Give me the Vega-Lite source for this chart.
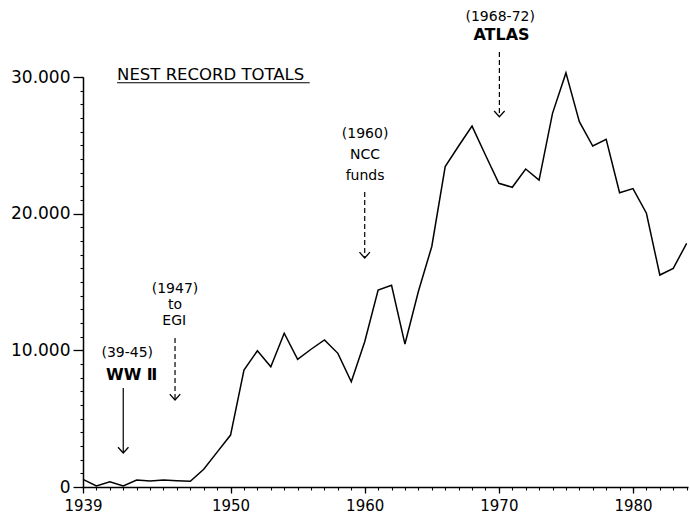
{
  "$schema": "https://vega.github.io/schema/vega-lite/v6.json",
  "width": 605,
  "height": 410,
  "autosize": {"type": "none"},
  "padding": {"left": 83, "top": 77, "right": 2, "bottom": 30},
  "background": "white",
  "config": {
    "view": {"stroke": null},
    "font": "DejaVu Sans",
    "axis": {"domainColor": "black", "tickColor": "black", "labelColor": "black", "labelFont": "DejaVu Sans", "grid": false, "title": null}
  },
  "datasets": {
    "totals": [
      {"year": 1939, "nests": 560}, {"year": 1940, "nests": 80}, {"year": 1941, "nests": 390},
      {"year": 1942, "nests": 80}, {"year": 1943, "nests": 510}, {"year": 1944, "nests": 440},
      {"year": 1945, "nests": 510}, {"year": 1946, "nests": 460}, {"year": 1947, "nests": 420},
      {"year": 1948, "nests": 1300}, {"year": 1949, "nests": 2550}, {"year": 1950, "nests": 3800},
      {"year": 1951, "nests": 8560}, {"year": 1952, "nests": 9970}, {"year": 1953, "nests": 8800},
      {"year": 1954, "nests": 11250}, {"year": 1955, "nests": 9340}, {"year": 1956, "nests": 10080},
      {"year": 1957, "nests": 10760}, {"year": 1958, "nests": 9780}, {"year": 1959, "nests": 7700},
      {"year": 1960, "nests": 10630}, {"year": 1961, "nests": 14410}, {"year": 1962, "nests": 14760},
      {"year": 1963, "nests": 10460}, {"year": 1964, "nests": 14300}, {"year": 1965, "nests": 17600},
      {"year": 1966, "nests": 23440}, {"year": 1967, "nests": 24950}, {"year": 1968, "nests": 26410},
      {"year": 1969, "nests": 24290}, {"year": 1970, "nests": 22220}, {"year": 1971, "nests": 21930},
      {"year": 1972, "nests": 23270}, {"year": 1973, "nests": 22460}, {"year": 1974, "nests": 27340},
      {"year": 1975, "nests": 30300}, {"year": 1976, "nests": 26730}, {"year": 1977, "nests": 24950},
      {"year": 1978, "nests": 25440}, {"year": 1979, "nests": 21530}, {"year": 1980, "nests": 21830},
      {"year": 1981, "nests": 20030}, {"year": 1982, "nests": 15510}, {"year": 1983, "nests": 16000},
      {"year": 1984, "nests": 17830}
    ],
    "notes": [
      {"year": 1942.3, "value": 9800, "label": "(39-45)"},
      {"year": 1945.86, "value": 14490, "label": "(1947)"},
      {"year": 1945.86, "value": 13320, "label": "to"},
      {"year": 1945.8, "value": 12150, "label": "EGI"},
      {"year": 1960.03, "value": 25830, "label": "(1960)"},
      {"year": 1960.03, "value": 24290, "label": "NCC"},
      {"year": 1960.03, "value": 22760, "label": "funds"},
      {"year": 1970.1, "value": 34410, "label": "(1968-72)"}
    ],
    "boldnotes": [
      {"year": 1942.63, "value": 8200, "label": "WW Ⅱ"},
      {"year": 1970.2, "value": 33070, "label": "ATLAS"}
    ],
    "heading": [
      {"year": 1941.54, "year2": 1955.9, "value": 30150, "under": 29580, "label": "NEST RECORD TOTALS"}
    ],
    "arrows": [
      {"year": 1942.0, "from": 7240, "to": 2490, "kind": "solid"},
      {"year": 1945.86, "from": 10900, "to": 6370, "kind": "dashed"},
      {"year": 1960.0, "from": 21590, "to": 16760, "kind": "dashed"},
      {"year": 1970.04, "from": 31830, "to": 27090, "kind": "dashed"}
    ]
  },
  "resolve": {"scale": {"x": "shared", "y": "shared"}, "axis": {"x": "independent", "y": "independent"}},
  "layer": [
    {
      "data": {"name": "totals"},
      "mark": {"type": "line", "color": "black", "strokeWidth": 1.5},
      "encoding": {
        "x": {
          "field": "year", "type": "quantitative",
          "scale": {"domain": [1939, 1984.1], "nice": false, "zero": false},
          "axis": {
            "orient": "bottom",
            "values": [1939, 1950, 1960, 1970, 1980],
            "format": "d",
            "tickSize": 6,
            "tickWidth": 1.3,
            "domainWidth": 1.5,
            "labelFontSize": 15,
            "labelPadding": 5,
            "labelOverlap": false,
            "labelFlush": false,
            "labelBound": false
          }
        },
        "y": {
          "field": "nests", "type": "quantitative",
          "scale": {"domain": [0, 30000], "nice": false, "zero": true},
          "axis": {
            "orient": "left",
            "values": [0, 10000, 20000, 30000],
            "labelExpr": "datum.value == 0 ? '0' : format(datum.value / 1000, 'd') + '.000'",
            "tickSize": 10,
            "tickWidth": 1.3,
            "domainWidth": 1.5,
            "labelFontSize": 17,
            "labelPadding": 3,
            "labelOverlap": false,
            "labelFlush": false,
            "labelBound": false
          }
        }
      }
    },
    {
      "data": {"name": "notes"},
      "mark": {"type": "text", "fontSize": 14, "font": "DejaVu Sans", "color": "black", "align": "center", "baseline": "middle"},
      "encoding": {
        "x": {"field": "year", "type": "quantitative", "axis": null},
        "y": {"field": "value", "type": "quantitative", "axis": null},
        "text": {"field": "label"}
      }
    },
    {
      "data": {"name": "boldnotes"},
      "mark": {"type": "text", "fontSize": 16, "font": "DejaVu Sans", "fontWeight": "bold", "color": "black", "align": "center", "baseline": "middle"},
      "encoding": {
        "x": {"field": "year", "type": "quantitative", "axis": null},
        "y": {"field": "value", "type": "quantitative", "axis": null},
        "text": {"field": "label"}
      }
    },
    {
      "data": {"name": "heading"},
      "mark": {"type": "text", "fontSize": 16.5, "font": "DejaVu Sans", "color": "black", "align": "left", "baseline": "middle"},
      "encoding": {
        "x": {"field": "year", "type": "quantitative", "axis": null},
        "y": {"field": "value", "type": "quantitative", "axis": null},
        "text": {"field": "label"}
      }
    },
    {
      "data": {"name": "heading"},
      "mark": {"type": "rule", "color": "black", "strokeWidth": 1.2},
      "encoding": {
        "x": {"field": "year", "type": "quantitative", "axis": null},
        "x2": {"field": "year2"},
        "y": {"field": "under", "type": "quantitative", "axis": null}
      }
    },
    {
      "data": {"name": "arrows"},
      "mark": {"type": "rule", "color": "black", "strokeWidth": 1.2},
      "encoding": {
        "x": {"field": "year", "type": "quantitative", "axis": null},
        "y": {"field": "from", "type": "quantitative", "axis": null},
        "y2": {"field": "to"},
        "strokeDash": {"field": "kind", "type": "nominal", "scale": {"domain": ["solid", "dashed"], "range": [[1, 0], [5, 3]]}, "legend": null}
      }
    },
    {
      "data": {"name": "arrows"},
      "mark": {"type": "point", "shape": "M-1,-1.1L0,0L1,-1.1", "filled": false, "stroke": "black", "strokeWidth": 1.3, "size": 110, "opacity": 1},
      "encoding": {
        "x": {
          "field": "year", "type": "quantitative",
          "axis": {
            "orient": "bottom",
            "values": [1939,1940,1941,1942,1943,1944,1945,1946,1947,1948,1949,1950,1951,1952,1953,1954,1955,1956,1957,1958,1959,1960,1961,1962,1963,1964,1965,1966,1967,1968,1969,1970,1971,1972,1973,1974,1975,1976,1977,1978,1979,1980,1981,1982,1983,1984],
            "labels": false,
            "domain": false,
            "tickSize": 3,
            "tickWidth": 1.1
          }
        },
        "y": {
          "field": "to", "type": "quantitative",
          "axis": {
            "orient": "left",
            "values": [0,1000,2000,3000,4000,5000,6000,7000,8000,9000,10000,11000,12000,13000,14000,15000,16000,17000,18000,19000,20000,21000,22000,23000,24000,25000,26000,27000,28000,29000,30000],
            "labels": false,
            "domain": false,
            "tickSize": 3,
            "tickWidth": 1.1
          }
        }
      }
    }
  ]
}
